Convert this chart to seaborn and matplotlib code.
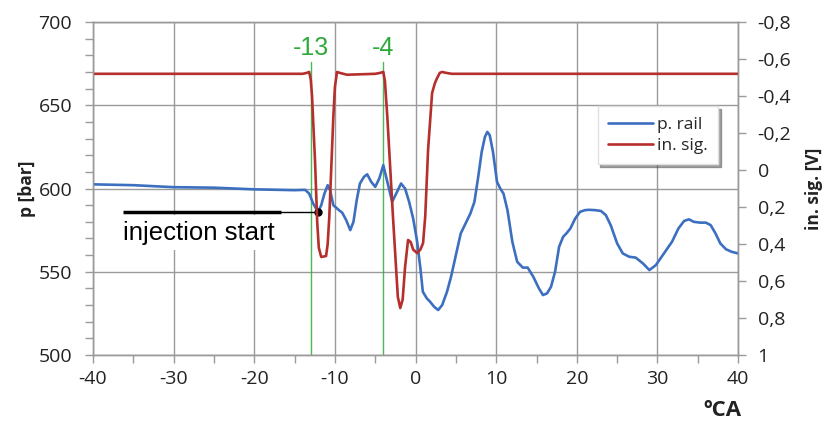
import matplotlib
matplotlib.use("Agg")
import matplotlib.pyplot as plt
import seaborn as sns
import pandas as pd

# ---- data ----
rail_ca = [-40, -35, -30, -25, -20, -15, -13.7, -13.2, -12.7, -12.1, -11.7, -11.3, -10.9, -10.6,
           -10.2, -9.5, -9.1, -8.6, -8.1, -7.7, -7.3, -6.9, -6.4, -6.0, -5.5, -5.0, -4.5, -4.0,
           -3.5, -2.9, -2.3, -1.8, -1.3, -0.8, -0.3, 0.2, 0.6, 0.9, 1.4, 1.8, 2.3, 2.8, 3.3, 3.9,
           4.4, 5.0, 5.6, 6.2, 6.8, 7.3, 7.8, 8.2, 8.6, 8.9, 9.2, 9.6, 10.1, 10.5, 10.9, 11.4,
           12.0, 12.6, 13.3, 13.9, 14.6, 15.3, 15.8, 16.3, 16.8, 17.3, 17.8, 18.3, 18.7, 19.2,
           19.8, 20.4, 21.0, 21.5, 22.3, 23.0, 23.6, 24.2, 25.0, 25.7, 26.5, 27.3, 28.2, 29.0,
           29.8, 30.8, 31.8, 32.6, 33.3, 33.9, 34.5, 35.3, 36.0, 36.6, 37.2, 37.8, 38.5, 39.2, 40]
rail_p = [602.5, 602, 600.8, 600.5, 599.5, 599, 599.2, 597, 591, 586, 590, 597, 602, 599,
          590, 587, 585.5, 581, 575, 580, 593, 603, 607, 608.5, 604, 601, 606, 614,
          604, 592, 598, 603, 600, 592, 582, 568, 552, 538, 534, 532, 529, 527, 530, 538,
          547, 560, 573, 579, 585, 592, 608, 622, 631, 634, 632, 622, 604, 600, 597, 587,
          568, 556, 552.5, 552.5, 547, 540, 536, 537, 541, 550, 565, 571, 573, 576,
          582, 586, 587, 587.2, 587, 586.5, 584, 578, 567, 561, 559, 558.5, 555, 551,
          554, 561, 568, 576, 580.5, 581.5, 580, 579.5, 579.5, 578, 573, 567, 563.5, 562, 561]

sig_ca = [-40, -14, -13.5, -13.2, -13.0, -12.84, -12.47, -12.2, -12.0, -11.7, -11.1, -10.9,
          -10.7, -10.2, -10.0, -9.74, -9.4, -8.5, -5.0, -4.4, -4.0, -3.8, -3.5, -2.8, -2.2,
          -1.9, -1.6, -1.3, -0.93, -0.6, -0.3, 0.19, 0.6, 0.93, 1.2, 1.55, 2.05, 2.4, 2.67,
          3.0, 3.29, 3.8, 4.5, 40]
sig_v = [-0.52, -0.52, -0.525, -0.53, -0.49, -0.40, -0.05, 0.28, 0.42, 0.47, 0.465, 0.40,
         0.254, -0.286, -0.45, -0.53, -0.525, -0.515, -0.52, -0.525, -0.53, -0.48, -0.286, 0.254,
         0.686, 0.746, 0.70, 0.524, 0.378, 0.39, 0.43, 0.449, 0.43, 0.395, 0.25, -0.108, -0.416,
         -0.47, -0.497, -0.525, -0.53, -0.525, -0.52, -0.52]

x_ticks = [-40, -30, -20, -10, 0, 10, 20, 30, 40]
p_ticks = [500, 550, 600, 650, 700]
v_ticks = [-0.8, -0.6, -0.4, -0.2, 0, 0.2, 0.4, 0.6, 0.8, 1.0]
v_labels = ["-0,8", "-0,6", "-0,4", "-0,2", "0", "0,2", "0,4", "0,6", "0,8", "1"]
marks_ca = [-13, -4]
mark_labels = ["-13", "-4"]
inj_ca, inj_p = -12.1, 586

rail_df = pd.DataFrame({"ca": rail_ca, "p": rail_p})
sig_df = pd.DataFrame({"ca": sig_ca, "v": sig_v})

sns.set_style("white")
plt.rcParams["font.family"] = ["Open Sans", "DejaVu Sans"]
plt.rcParams["axes.unicode_minus"] = False

BLUE = "#3c6fc0"
RED = "#b52f2c"
GREEN = "#2eaa3a"
GRID = "#9a9a9a"
TXT = "#222222"
ARIAL = ["Liberation Sans", "DejaVu Sans"]

fig = plt.figure(figsize=(8.27, 4.30), dpi=100)
ax = fig.add_axes([0.1125, 0.1744, 0.78, 0.7744])
ax2 = ax.twinx()

sns.lineplot(data=rail_df, x="ca", y="p", ax=ax, color=BLUE, lw=1.9, label="p. rail",
             legend=False, zorder=3)
sns.lineplot(data=sig_df, x="ca", y="v", ax=ax2, color=RED, lw=1.9, label="in. sig.",
             legend=False, zorder=2)
for a in (ax, ax2):
    for ln in a.get_lines():
        ln.set_solid_joinstyle("round")

ax.set_xlim(-40, 40)
ax.set_ylim(500, 700)
ax2.set_ylim(1.0, -0.8)

ax.set_xticks(x_ticks)
ax.set_xticks(range(-40, 41, 5), minor=True)
ax.set_yticks(p_ticks)
ax.set_yticks(range(500, 701, 10), minor=True)
ax2.set_yticks(v_ticks)
ax2.set_yticklabels(v_labels)

ax.grid(True, which="major", color=GRID, lw=1)
ax.set_axisbelow(True)
for a in (ax, ax2):
    for s in a.spines.values():
        s.set_color(GRID)
        s.set_linewidth(1)
ax.tick_params(axis="both", which="both", direction="out", color=GRID, length=6, width=1,
               labelsize=14, labelcolor=TXT, left=True, bottom=True)
ax.tick_params(axis="x", which="major", pad=5)
ax.tick_params(axis="y", which="major", pad=9)
ax2.tick_params(axis="y", direction="out", color=GRID, length=6, width=1, labelsize=14,
                labelcolor=TXT, right=True, pad=8)

ax.set_xlabel("")
ax.set_ylabel("p [bar]", fontsize=12.5, fontweight="bold", color=TXT, labelpad=2)
ax2.set_ylabel("in. sig. [V]", fontsize=12.5, fontweight="bold", color=TXT, rotation=90,
               labelpad=10)
fig.text(0.873, 0.045, "ºCA", fontsize=16, fontweight="bold", color=TXT, ha="center", va="center")

# green markers
for c, lab in zip(marks_ca, mark_labels):
    ax.plot([c, c], [500, 676], color=GREEN, lw=1, zorder=2.5, alpha=0.85)
    ax.text(c, 680, lab, color=GREEN, fontsize=18, ha="center", va="baseline", family=ARIAL)

# injection start annotation
ax.text(-36.3, 573.5, "injection start", fontsize=18.5, color="black", ha="left", va="center",
        family=ARIAL, bbox=dict(facecolor="white", edgecolor="none", pad=4), zorder=4)
ax.plot([-36.3, -16.7], [586, 586], color="black", lw=2.5, zorder=5, solid_capstyle="butt")
ax.plot([-16.7, inj_ca], [586, inj_p], color="black", lw=1, zorder=5)
ax.plot([inj_ca], [inj_p], marker="o", ms=5, mfc="black", mec="black", zorder=6)

# legend
h1, l1 = ax.get_legend_handles_labels()
h2, l2 = ax2.get_legend_handles_labels()
leg = ax2.legend(h1 + h2, l1 + l2, loc="upper left", bbox_to_anchor=(0.777, 0.758),
                 fontsize=12.5, frameon=True, shadow=True, fancybox=False, framealpha=1,
                 edgecolor="#e0e0e0", handlelength=2.6, handletextpad=0.2, borderpad=0.6,
                 labelspacing=0.3, borderaxespad=0.2)
leg.set_zorder(10)

fig.savefig("out.png", dpi=100)
